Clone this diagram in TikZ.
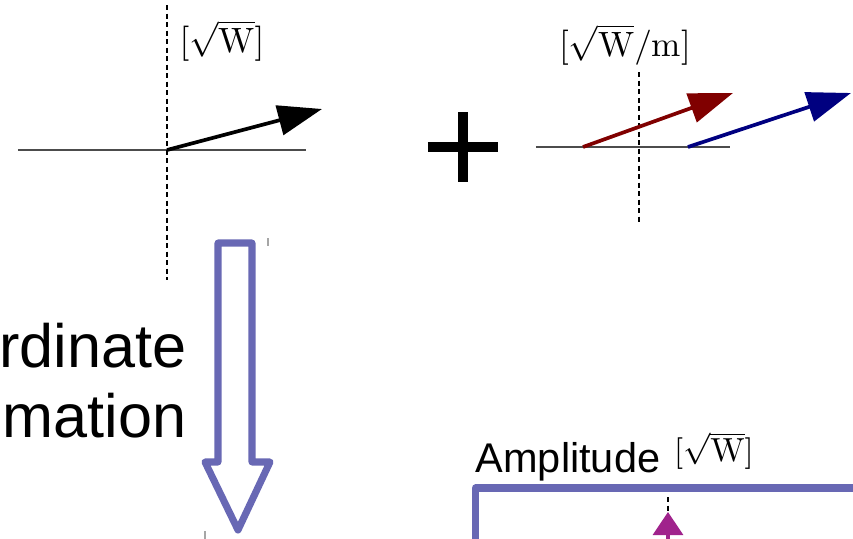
\documentclass[tikz,border=0pt]{standalone}
\usepackage{amsmath}
\usepackage{fontspec}
\newfontfamily\labelsans{Liberation Sans}
\usepackage{tikz}
\usetikzlibrary{arrows.meta}
\definecolor{phasorred}{RGB}{128,0,0}
\definecolor{phasorblue}{RGB}{0,0,128}
\definecolor{hollowblue}{RGB}{104,104,180}
\definecolor{amplmag}{RGB}{160,35,140}

\begin{document}
\begin{tikzpicture}[x=0.01cm,y=-0.01cm,
  axisline/.style={black!70,line width=0.4pt},
  zeroline/.style={black,line width=0.8pt,dash pattern=on 0.5mm off 0.35mm},
  phasor/.style={line width=1.05pt,-{Triangle[length=4.4mm,width=3mm]}},
  bigblue/.style={hollowblue,line width=2pt,line join=round},
  unitlbl/.style={inner sep=0pt,font=\fontsize{10}{12}\selectfont}]
\useasboundingbox (0,0) rectangle (853,539);
\clip (0,0) rectangle (853,539);
% left plot
\coordinate (o1) at (167,150);
\coordinate (t1) at (322,109);
\draw[axisline] (18,150) -- (306,150);
\draw[zeroline] (167,5) -- (167,280);
\draw[phasor] (o1) -- (t1);
\node[unitlbl] (u1) at (222,41) {$[\sqrt{\mathrm{W}}]$};
% plus
\draw[line width=1mm] (428,147) -- (498,147) (463,112) -- (463,182);
% right plot
\coordinate (o2) at (583,147);
\coordinate (t2) at (733,93);
\coordinate (o3) at (688,147);
\coordinate (t3) at (851,93);
\draw[axisline] (536,147) -- (730,147);
\draw[zeroline] (639,72) -- (639,222);
\draw[phasor,phasorred] (o2) -- (t2);
\draw[phasor,phasorblue] (o3) -- (t3);
\node[unitlbl] (u2) at (625,45) {$[\sqrt{\mathrm{W}}/\mathrm{m}]$};
% hollow arrow
\draw[bigblue] (218,243) -- (252,243) -- (252,462) -- (270,462) -- (238,530)
  -- (205,462) -- (218,462) -- cycle;
\draw[black!35,line width=0.3pt] (268,238) -- (268,246) (205,531) -- (205,539);
\node[anchor=base east,inner sep=0pt,font=\labelsans\fontsize{17.4}{20}\selectfont] (xf1) at (187,367) {rdinate};
\node[anchor=base east,inner sep=0pt,font=\labelsans\fontsize{17.4}{20}\selectfont] (xf2) at (187,437) {mation};
% amplitude panel
\node[anchor=base west,inner sep=0pt,font=\labelsans\fontsize{11.8}{14}\selectfont] (amp) at (475,472) {Amplitude};
\node[unitlbl,font=\fontsize{9.5}{11}\selectfont] (u3) at (714,451) {$[\sqrt{\mathrm{W}}]$};
\draw[bigblue] (475.5,570) -- (475.5,488) -- (880,488);
\coordinate (a0) at (668,570);
\coordinate (a1) at (668,512);
\draw[zeroline] (668,497) -- (668,512);
\draw[amplmag,line width=0.9pt,-{Triangle[length=2.3mm,width=3mm]}] (a0) -- (a1);
\end{tikzpicture}
\end{document}
